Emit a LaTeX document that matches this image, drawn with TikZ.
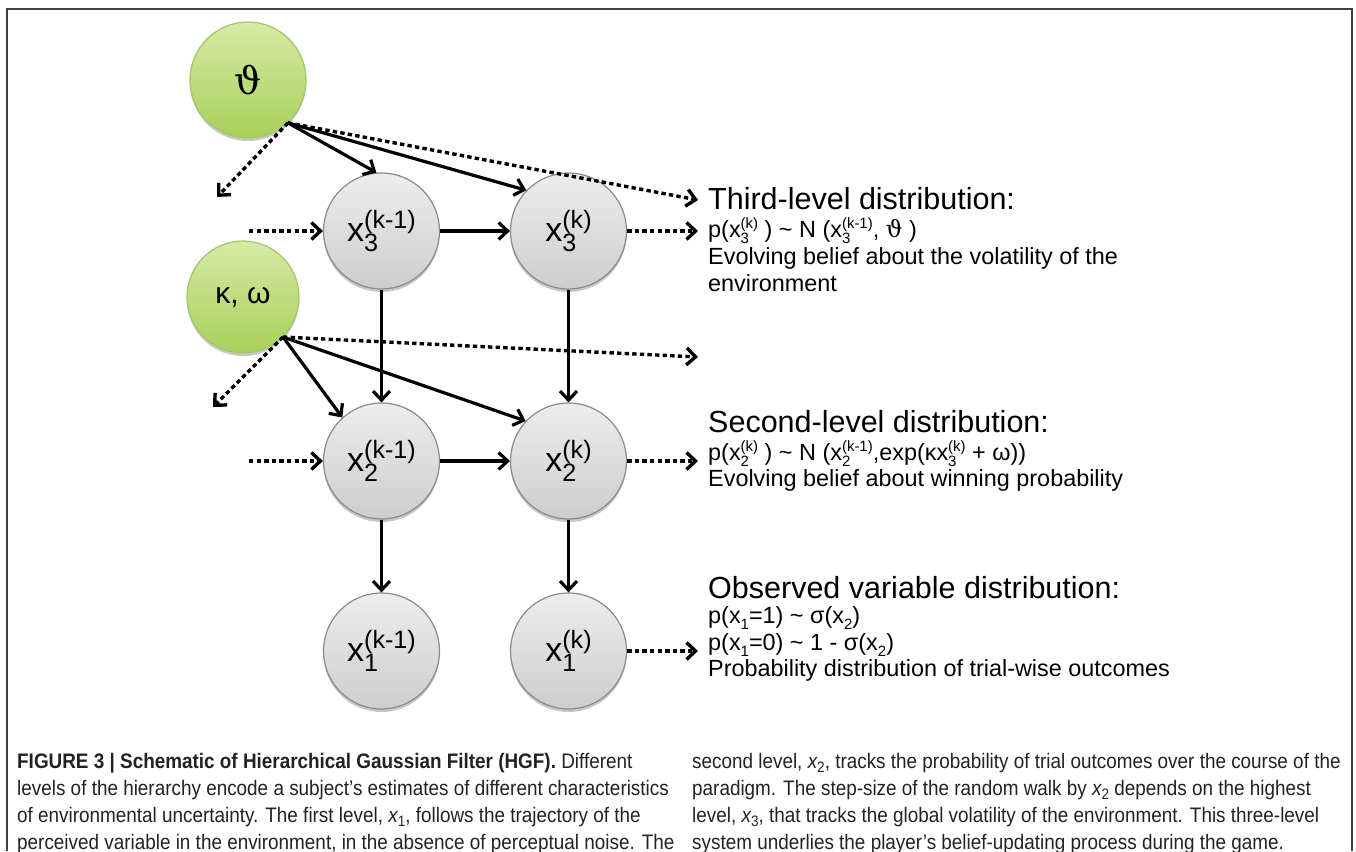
\documentclass[tikz,border=0pt]{standalone}
\usepackage{fontspec}
\setmainfont{Liberation Sans}
\newfontfamily\capfont[FakeStretch=0.90]{Liberation Sans}
\newfontfamily\thetafont{DejaVu Serif}
\usetikzlibrary{arrows.meta,shadows}
\makeatletter
\newcommand\relsz[1]{\fontsize{\the\dimexpr #1\dimexpr\f@size pt\relax\relax}{0pt}\selectfont}
\makeatother
% circle labels: large scripts
\newcommand\clab[2]{x\rlap{\raisebox{-0.30em}{\relsz{0.74}#1}}\raisebox{0.36em}{\relsz{0.74}#2}}
% text lines: smaller scripts
\newcommand\subsup[2]{\rlap{\raisebox{-0.28em}{\relsz{0.64}#1}}\raisebox{0.37em}{\relsz{0.64}#2}}
\newcommand\lsub[1]{\raisebox{-0.26em}{\relsz{0.64}#1}}
\newcommand\cx[1]{{\itshape x}\raisebox{-0.22em}{\relsz{0.72}#1}}
\definecolor{gtop}{HTML}{EDEDED}
\definecolor{gbot}{HTML}{CDCDCD}
\definecolor{gedge}{HTML}{8A8A8A}
\definecolor{ltop}{HTML}{D6EAA4}
\definecolor{lbot}{HTML}{A8D05A}
\definecolor{ledge}{HTML}{A3C66A}
\definecolor{captxt}{HTML}{222222}
\tikzset{
  varc/.style={circle, minimum size=116pt, inner sep=0pt, draw=gedge, line width=1.2pt,
    top color=gtop, bottom color=gbot,
    drop shadow={shadow xshift=0pt, shadow yshift=-3pt, opacity=0.22, fill=black},
    font=\fontsize{34}{34}\selectfont},
  parc/.style={circle, inner sep=0pt, draw=ledge, line width=1.2pt,
    top color=ltop, bottom color=lbot,
    drop shadow={shadow xshift=0pt, shadow yshift=-3pt, opacity=0.22, fill=black}},
  arr/.style={line width=3.2pt, -{Straight Barb[length=9pt,width=17pt]}},
  dotarr/.style={arr, line width=3.4pt, dash pattern=on 4.4pt off 3.2pt},
  bigtxt/.style={anchor=base west, inner sep=0pt, font=\fontsize{30.5}{30.5}\selectfont},
  smalltxt/.style={anchor=base west, inner sep=0pt, font=\fontsize{23.4}{23.4}\selectfont},
  captext/.style={anchor=base west, inner sep=0pt, text=captxt, font=\capfont\fontsize{21}{21}\selectfont},
}
\begin{document}
\begin{tikzpicture}[x=1pt,y=-1pt]
\useasboundingbox (0,0) rectangle (1356,851);
\draw[line width=1.5pt, black!75] (7,851) -- (7,9) -- (1352,9) -- (1352,851);

% parameter nodes
\node[parc, minimum size=116pt] (theta) at (248,80) {\thetafont\fontsize{38}{38}\selectfont ϑ};
\node[parc, minimum size=112pt] (kw) at (243,297) {\fontsize{30}{30}\selectfont κ, ω};

% state nodes
\node[varc] (x3a) at (381.5,231) {\clab{3}{(k-1)}};
\node[varc] (x3b) at (568.5,231) {\clab{3}{(k)}};
\node[varc] (x2a) at (381.5,461) {\clab{2}{(k-1)}};
\node[varc] (x2b) at (568.5,461) {\clab{2}{(k)}};
\node[varc] (x1a) at (381.5,651) {\clab{1}{(k-1)}};
\node[varc] (x1b) at (568.5,651) {\clab{1}{(k)}};

% free ends
\coordinate (tdl) at (217,197);
\coordinate (tr) at (698,200);
\coordinate (kdl) at (213,407);
\coordinate (kr) at (698,357);
\coordinate (in3) at (249,231);
\coordinate (in2) at (249,461);
\coordinate (out3) at (698,231);
\coordinate (out2) at (698,461);
\coordinate (out1) at (698,651);

% theta connectors
\draw[dotarr] (theta.-47) -- (tdl);
\draw[dotarr] (theta.-47) -- (tr);
\draw[arr] (theta.-47) -- (x3a.95);
\draw[arr] (theta.-47) -- (x3b.136);

% kappa omega connectors
\draw[dotarr] (kw.-45) -- (kdl);
\draw[dotarr] (kw.-45) -- (kr);
\draw[arr] (kw.-45) -- (x2a.132);
\draw[arr] (kw.-45) -- (x2b.137);

% horizontal
\draw[dotarr] (in3) -- (x3a);
\draw[arr] (x3a) -- (x3b);
\draw[dotarr] (x3b) -- (out3);
\draw[dotarr] (in2) -- (x2a);
\draw[arr] (x2a) -- (x2b);
\draw[dotarr] (x2b) -- (out2);
\draw[dotarr] (x1b) -- (out1);

% vertical
\draw[arr] (x3a) -- (x2a);
\draw[arr] (x3b) -- (x2b);
\draw[arr] (x2a) -- (x1a);
\draw[arr] (x2b) -- (x1b);

% right-hand texts
\node[bigtxt] (t3h) at (708,209) {Third-level distribution:};
\node[smalltxt] (t3a) at (708,237) {p(x\subsup{3}{(k)} ) \textasciitilde{} N (x\subsup{3}{(k-1)}, {\thetafont ϑ} )};
\node[smalltxt] (t3b) at (708,264) {Evolving belief about the volatility of the};
\node[smalltxt] (t3c) at (708,291) {environment};

\node[bigtxt] (t2h) at (708,432) {Second-level distribution:};
\node[smalltxt] (t2a) at (708,460) {p(x\subsup{2}{(k)} ) \textasciitilde{} N (x\subsup{2}{(k-1)},exp(κx\subsup{3}{(k)} + ω))};
\node[smalltxt] (t2b) at (708,486) {Evolving belief about winning probability};

\node[bigtxt] (t1h) at (708,598) {Observed variable distribution:};
\node[smalltxt] (t1a) at (708,623) {p(x\lsub{1}=1) \textasciitilde{} σ(x\lsub{2})};
\node[smalltxt] (t1b) at (708,650) {p(x\lsub{1}=0) \textasciitilde{} 1 - σ(x\lsub{2})};
\node[smalltxt] (t1c) at (708,676) {Probability distribution of trial-wise outcomes};

% caption
\node[captext] (c1) at (17,768) {\textbf{FIGURE 3 | Schematic of Hierarchical Gaussian Filter (HGF).} Different};
\node[captext] (c2) at (17,795) {levels of the hierarchy encode a subject’s estimates of different characteristics};
\node[captext] (c3) at (17,822) {of environmental uncertainty. The first level, \cx{1}, follows the trajectory of the};
\node[captext] (c4) at (17,849) {perceived variable in the environment, in the absence of perceptual noise. The};
\node[captext] (d1) at (692,768) {second level, \cx{2}, tracks the probability of trial outcomes over the course of the};
\node[captext] (d2) at (692,795) {paradigm. The step-size of the random walk by \cx{2} depends on the highest};
\node[captext] (d3) at (692,822) {level, \cx{3}, that tracks the global volatility of the environment. This three-level};
\node[captext] (d4) at (692,849) {system underlies the player’s belief-updating process during the game.};
\end{tikzpicture}
\end{document}
